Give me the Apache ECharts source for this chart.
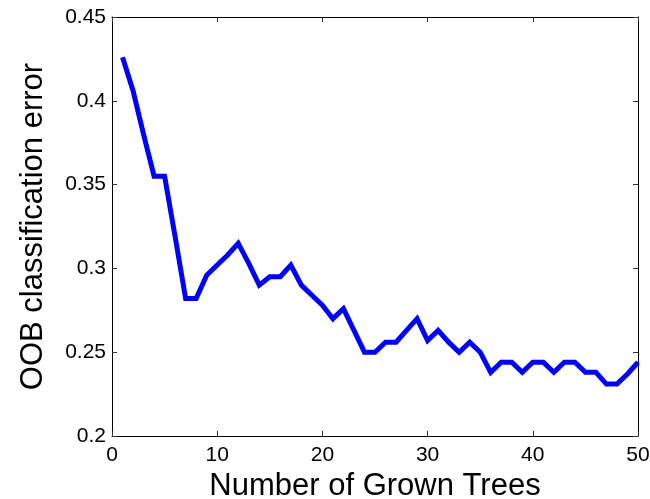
<!DOCTYPE html>
<html>
<head>
<meta charset="utf-8">
<script src="https://cdn.jsdelivr.net/npm/echarts@6/dist/echarts.min.js"></script>
<style>html,body{margin:0;padding:0;background:#fff;}#c{width:650px;height:499px;}</style>
</head>
<body>
<div id="c"></div>
<script>
var trees = [1,2,3,4,5,6,7,8,9,10,11,12,13,14,15,16,17,18,19,20,21,22,23,24,25,26,27,28,29,30,31,32,33,34,35,36,37,38,39,40,41,42,43,44,45,46,47,48,49,50];
var oobError = [0.426,0.406,0.380,0.355,0.355,0.319,0.282,0.282,0.296,0.302,
                0.308,0.315,0.303,0.290,0.295,0.295,0.302,0.290,0.284,0.278,
                0.270,0.276,0.263,0.250,0.250,0.256,0.256,0.263,0.270,0.257,
                0.263,0.256,0.250,0.256,0.250,0.238,0.244,0.244,0.238,0.244,
                0.244,0.238,0.244,0.244,0.238,0.238,0.231,0.231,0.237,0.244];
var xTicks = [0,10,20,30,40,50];
var yTicks = [0.2,0.25,0.3,0.35,0.4,0.45];

var font = '"Liberation Sans", Arial, sans-serif';
var chart = echarts.init(document.getElementById('c'));
var tickStyle = {show:true, inside:true, length:5, lineStyle:{color:'#333', width:1}};
chart.setOption({
  animation:false,
  grid:{left:112, right:12, top:17, bottom:63, show:false, containLabel:false, outerBoundsMode:'none'},
  xAxis:[{
    type:'value', min:xTicks[0], max:xTicks[xTicks.length-1], interval:10,
    name:'Number of Grown Trees', nameLocation:'middle', nameGap:35,
    nameTextStyle:{fontFamily:font, fontSize:31, color:'#000'},
    axisLine:{show:true, onZero:false, lineStyle:{color:'#000', width:1}},
    axisTick:tickStyle,
    axisLabel:{fontFamily:font, fontSize:21, color:'#000', margin:9},
    splitLine:{show:false}
  },{
    type:'value', position:'top', min:xTicks[0], max:xTicks[xTicks.length-1], interval:10,
    axisLine:{show:true, onZero:false, lineStyle:{color:'#000', width:1}},
    axisTick:tickStyle, axisLabel:{show:false}, splitLine:{show:false}
  }],
  yAxis:[{
    type:'value', min:yTicks[0], max:yTicks[yTicks.length-1], interval:0.05,
    name:'OOB classification error', nameLocation:'middle', nameGap:63,
    nameTextStyle:{fontFamily:font, fontSize:31, color:'#000'},
    axisLine:{show:true, onZero:false, lineStyle:{color:'#000', width:1}},
    axisTick:tickStyle,
    axisLabel:{fontFamily:font, fontSize:21, color:'#000', margin:6,
      formatter:function(v){return String(parseFloat(v.toFixed(2)));}},
    splitLine:{show:false}
  },{
    type:'value', position:'right', min:yTicks[0], max:yTicks[yTicks.length-1], interval:0.05,
    axisLine:{show:true, onZero:false, lineStyle:{color:'#000', width:1}},
    axisTick:tickStyle, axisLabel:{show:false}, splitLine:{show:false}
  }],
  series:[{
    type:'line',
    data:trees.map(function(t,i){return [t, oobError[i]];}),
    showSymbol:false,
    lineStyle:{color:'#0000ff', width:5, join:'miter'},
    itemStyle:{color:'#0000ff'}
  }]
});
</script>
</body>
</html>
